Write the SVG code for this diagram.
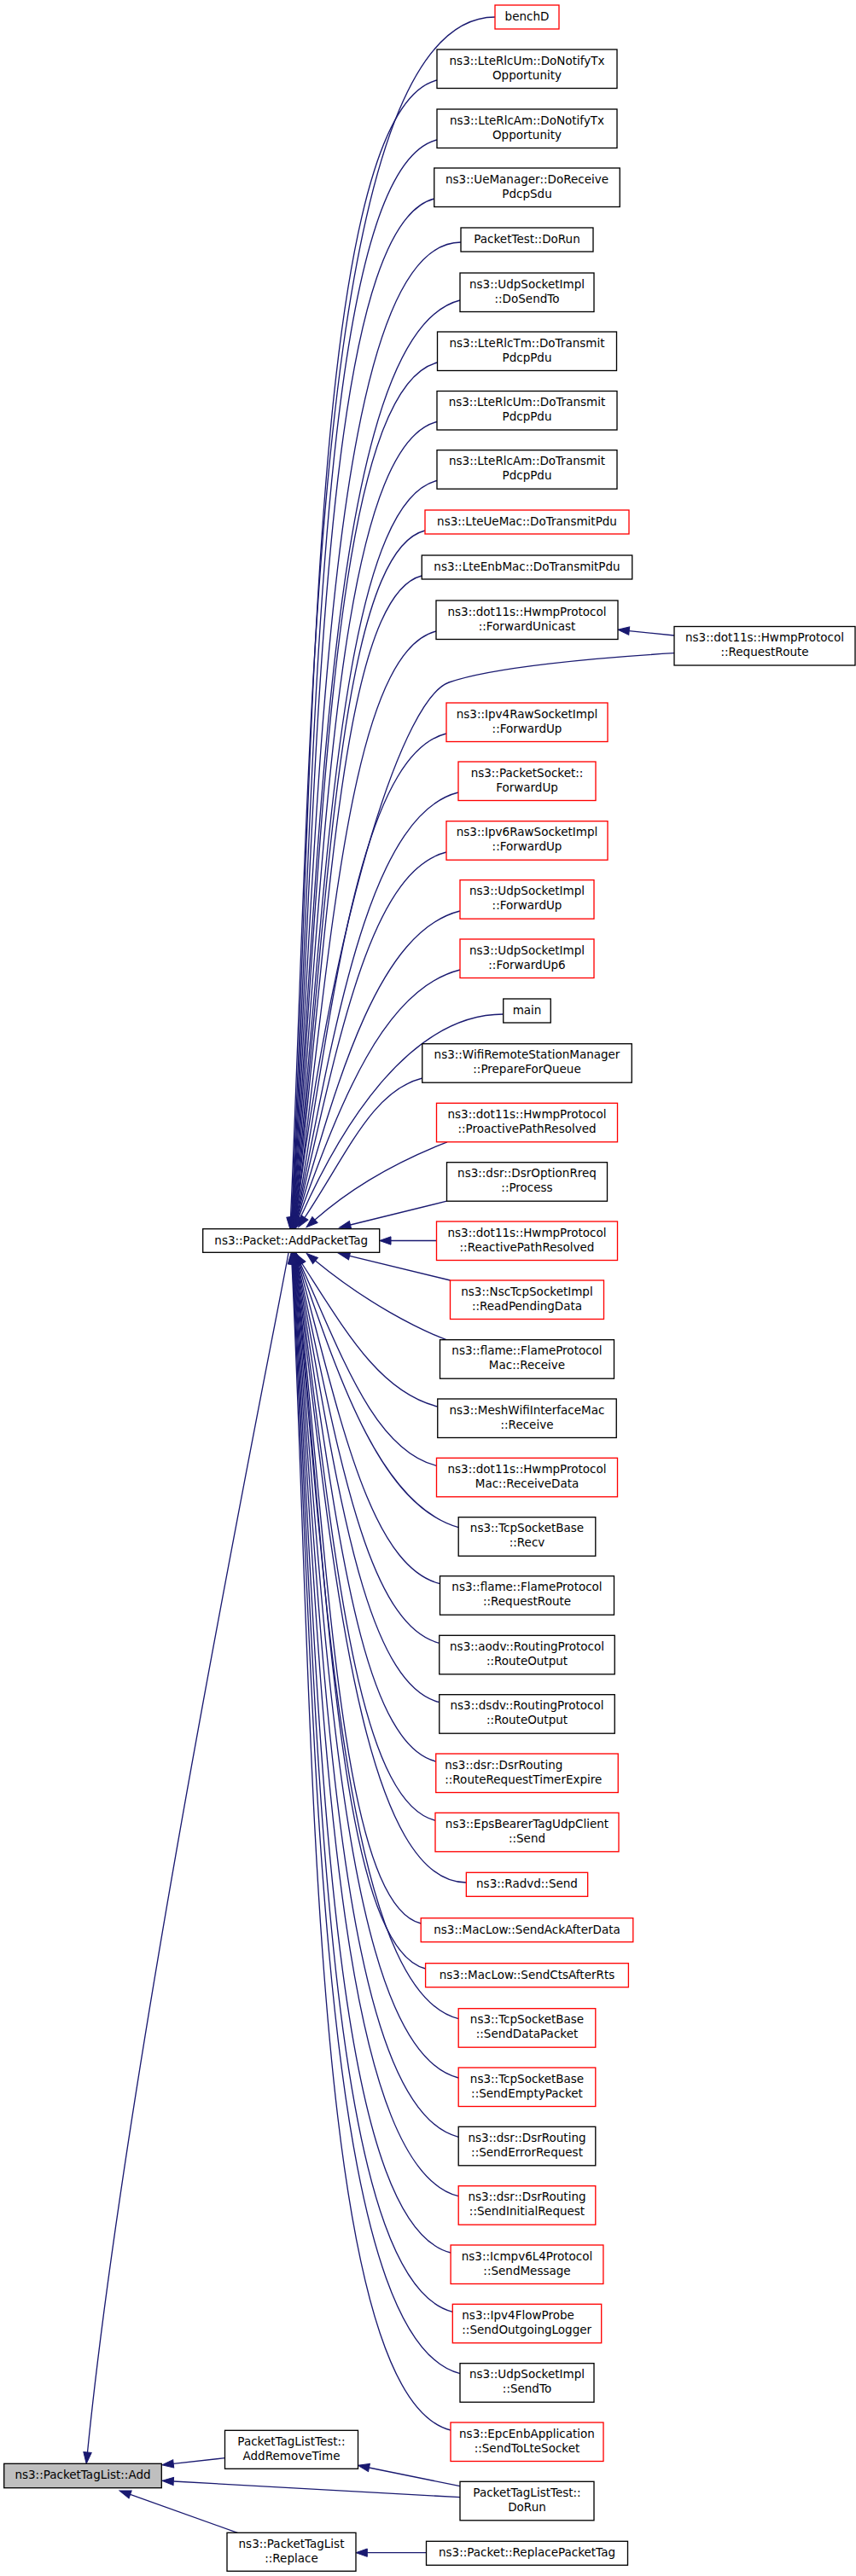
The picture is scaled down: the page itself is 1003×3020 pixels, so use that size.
<svg xmlns="http://www.w3.org/2000/svg" width="1003" height="3020" viewBox="0 0 1003 3020">
<style>
.node rect{fill:#ffffff;stroke:#000000;stroke-width:1.33}
.node.r rect{stroke:#ff0000}
.node.g rect{fill:#bfbfbf}
.node text{font-family:"DejaVu Sans","Liberation Sans",sans-serif;font-size:13.5px;text-anchor:middle;fill:#000000}
.node text.l{text-anchor:start}
.edges path{fill:none;stroke:#191970;stroke-width:1.33;marker-end:url(#ah)}
</style>
<defs>
<marker id="ah" markerUnits="userSpaceOnUse" markerWidth="16" markerHeight="12" viewBox="0 -6 16 12" refX="0" refY="0" orient="auto" overflow="visible">
<path d="M0,-4.67L13.3,0L0,4.67Z" fill="#191970" stroke="#191970" stroke-width="1"/>
</marker>
</defs>
<rect x="0" y="0" width="1003" height="3020" fill="#ffffff"/>
<g class="edges">
<path d="M580,20 C362.4,20 365.6,892.4 340.5,1427.5"/>
<path d="M512,94 C362.1,131.7 368.1,912.8 341.5,1427.5"/>
<path d="M512,164 C367.1,200.5 370.1,933 342,1427.5"/>
<path d="M508.75,233 C371.6,267.6 372.1,953.5 342.5,1427.5"/>
<path d="M540,284 C381.4,284 373.7,969.2 343,1427.5"/>
<path d="M539,352 C386.5,390.1 375.6,990.7 343.5,1427.5"/>
<path d="M512.5,425 C386.1,456.7 377.7,1014.7 344,1427.5"/>
<path d="M512,494.5 C390.7,524.8 379.6,1038.3 344.5,1427.5"/>
<path d="M512,563.5 C395.6,592.6 381.6,1062.4 345,1427.5"/>
<path d="M498,622 C395.2,647.7 383.4,1083.4 345.5,1427.5"/>
<path d="M494.25,675 C397.4,699.3 385,1102.9 346,1427.5"/>
<path d="M511,740 C407.7,765.8 386.9,1127.5 346.5,1427.5"/>
<path d="M790,765.7 C700,771 577,782 526,800 C475,818 395,1050 347,1427.5"/>
<path d="M790,745 L737.2,739.6"/>
<path d="M523,860 C421,885.5 390.4,1174.6 347.5,1427.5"/>
<path d="M537,929 C432.2,955.2 392.4,1202.6 348,1427.5"/>
<path d="M523,999 C431,1022 394.4,1231.8 348.5,1427.5"/>
<path d="M539,1068 C444,1091.8 396.4,1261.4 349,1427.5"/>
<path d="M539,1137 C449.6,1159.4 398.8,1291.7 350,1427.5"/>
<path d="M589.75,1189 C482.2,1189 401.9,1315.1 352,1427.5"/>
<path d="M494.75,1264 C436.5,1278.6 408.5,1349.5 357,1427.5"/>
<path d="M524,1338.8 C480,1356 420,1385 369,1430"/>
<path d="M523.5,1408.2 L410.5,1436"/>
<path d="M511.5,1454.5 L458,1454.5"/>
<path d="M527.5,1501 L409.6,1472.4"/>
<path d="M523,1570.7 C490,1558 430,1528 369.5,1478"/>
<path d="M512.75,1649 C445.2,1632.1 405.4,1561.4 354,1481.5"/>
<path d="M511.5,1718.3 C439.3,1700.3 402,1593.2 352,1481.5"/>
<path d="M537.2,1790.7 C448,1765.4 399.5,1624.2 351,1481.5"/>
<path d="M515.5,1856.7 C431.6,1835.8 397,1654.4 350,1481.5"/>
<path d="M514.75,1926.3 C426.3,1904.2 394.5,1684 349,1481.5"/>
<path d="M514.75,1995.7 C421.5,1972.4 392.6,1712.8 348.5,1481.5"/>
<path d="M510.75,2065 C415.1,2041.1 390.6,1740.9 348,1481.5"/>
<path d="M510,2134.3 C410.1,2109.3 388.6,1768.1 347.5,1481.5"/>
<path d="M546.35,2207 C418.2,2207 386.6,1795.9 347,1481.5"/>
<path d="M493.2,2255 C396.1,2230.7 385,1813.9 346.5,1481.5"/>
<path d="M498.6,2308 C394.5,2282 383.4,1833.2 346,1481.5"/>
<path d="M537.2,2366.7 C402.1,2332.9 381.7,1854.1 345.5,1481.5"/>
<path d="M537.2,2436 C396.5,2400.8 379.7,1878.1 345,1481.5"/>
<path d="M537.2,2505.3 C390.9,2468.7 377.7,1901.4 344.5,1481.5"/>
<path d="M537.2,2574.7 C385.3,2536.7 375.7,1923.9 344,1481.5"/>
<path d="M528.1,2641 C378.2,2603.5 373.8,1944.7 343.5,1481.5"/>
<path d="M530.3,2710.3 C373.1,2671 371.9,1965.8 343,1481.5"/>
<path d="M539,2782.7 C368.5,2740.1 369.8,1987 342.5,1481.5"/>
<path d="M528,2849 C361.6,2807.9 367.9,2005.7 342,1481.5"/>
<path d="M338,1469 C322,1560 150,2400 102.5,2875"/>
<path d="M263.5,2881.7 L203.2,2888.3"/>
<path d="M539,2927.7 L203.3,2909"/>
<path d="M539,2914.7 L432.5,2893"/>
<path d="M278.3,2969.3 L152.6,2924.4"/>
<path d="M499.5,2992.7 L430.3,2992.7"/>
</g>
<g id="n_benchD" class="node r"><rect x="580" y="6" width="75" height="28"/><text x="617.5" y="24">benchD</text></g>
<g id="n_rlcum_notify" class="node"><rect x="512" y="58" width="211" height="45.5"/><text x="617.5" y="75.5"><tspan x="617.5" y="75.5">ns3::LteRlcUm::DoNotifyTx</tspan><tspan x="617.5" y="92.5">Opportunity</tspan></text></g>
<g id="n_rlcam_notify" class="node"><rect x="512" y="128" width="211" height="45.5"/><text x="617.5" y="145.5"><tspan x="617.5" y="145.5">ns3::LteRlcAm::DoNotifyTx</tspan><tspan x="617.5" y="162.5">Opportunity</tspan></text></g>
<g id="n_uemanager" class="node"><rect x="508.75" y="197" width="217.5" height="45.5"/><text x="617.5" y="214.5"><tspan x="617.5" y="214.5">ns3::UeManager::DoReceive</tspan><tspan x="617.5" y="231.5">PdcpSdu</tspan></text></g>
<g id="n_packettest" class="node"><rect x="540" y="267" width="155" height="28"/><text x="617.5" y="285">PacketTest::DoRun</text></g>
<g id="n_udp_dosendto" class="node"><rect x="539" y="320" width="157" height="45.5"/><text x="617.5" y="337.5"><tspan x="617.5" y="337.5">ns3::UdpSocketImpl</tspan><tspan x="617.5" y="354.5">::DoSendTo</tspan></text></g>
<g id="n_rlctm_tx" class="node"><rect x="512.5" y="389" width="210" height="45.5"/><text x="617.5" y="406.5"><tspan x="617.5" y="406.5">ns3::LteRlcTm::DoTransmit</tspan><tspan x="617.5" y="423.5">PdcpPdu</tspan></text></g>
<g id="n_rlcum_tx" class="node"><rect x="512" y="458.5" width="211" height="45.5"/><text x="617.5" y="476"><tspan x="617.5" y="476">ns3::LteRlcUm::DoTransmit</tspan><tspan x="617.5" y="493">PdcpPdu</tspan></text></g>
<g id="n_rlcam_tx" class="node"><rect x="512" y="527.7" width="211" height="45.5"/><text x="617.5" y="545.2"><tspan x="617.5" y="545.2">ns3::LteRlcAm::DoTransmit</tspan><tspan x="617.5" y="562.2">PdcpPdu</tspan></text></g>
<g id="n_uemac" class="node r"><rect x="498" y="598" width="239" height="28"/><text x="617.5" y="616">ns3::LteUeMac::DoTransmitPdu</text></g>
<g id="n_enbmac" class="node"><rect x="494.25" y="651" width="246.5" height="28"/><text x="617.5" y="669">ns3::LteEnbMac::DoTransmitPdu</text></g>
<g id="n_fwdunicast" class="node"><rect x="511" y="704" width="213" height="45.5"/><text x="617.5" y="721.5"><tspan x="617.5" y="721.5">ns3::dot11s::HwmpProtocol</tspan><tspan x="617.5" y="738.5">::ForwardUnicast</tspan></text></g>
<g id="n_hwmp_requestroute" class="node"><rect x="790" y="734.5" width="212" height="45.5"/><text x="896" y="752"><tspan x="896" y="752">ns3::dot11s::HwmpProtocol</tspan><tspan x="896" y="769">::RequestRoute</tspan></text></g>
<g id="n_ipv4raw" class="node r"><rect x="523" y="824" width="189" height="45.5"/><text x="617.5" y="841.5"><tspan x="617.5" y="841.5">ns3::Ipv4RawSocketImpl</tspan><tspan x="617.5" y="858.5">::ForwardUp</tspan></text></g>
<g id="n_packetsocket" class="node r"><rect x="537" y="893" width="161" height="45.5"/><text x="617.5" y="910.5"><tspan x="617.5" y="910.5">ns3::PacketSocket::</tspan><tspan x="617.5" y="927.5">ForwardUp</tspan></text></g>
<g id="n_ipv6raw" class="node r"><rect x="523" y="962.7" width="189" height="45.5"/><text x="617.5" y="980.2"><tspan x="617.5" y="980.2">ns3::Ipv6RawSocketImpl</tspan><tspan x="617.5" y="997.2">::ForwardUp</tspan></text></g>
<g id="n_udp_fwdup" class="node r"><rect x="539" y="1031.7" width="157" height="45.5"/><text x="617.5" y="1049.2"><tspan x="617.5" y="1049.2">ns3::UdpSocketImpl</tspan><tspan x="617.5" y="1066.2">::ForwardUp</tspan></text></g>
<g id="n_udp_fwdup6" class="node r"><rect x="539" y="1101" width="157" height="45.5"/><text x="617.5" y="1118.5"><tspan x="617.5" y="1118.5">ns3::UdpSocketImpl</tspan><tspan x="617.5" y="1135.5">::ForwardUp6</tspan></text></g>
<g id="n_main" class="node"><rect x="589.75" y="1171" width="55.5" height="28"/><text x="617.5" y="1189">main</text></g>
<g id="n_wifirsm" class="node"><rect x="494.75" y="1223.7" width="245.5" height="45.5"/><text x="617.5" y="1241.2"><tspan x="617.5" y="1241.2">ns3::WifiRemoteStationManager</tspan><tspan x="617.5" y="1258.2">::PrepareForQueue</tspan></text></g>
<g id="n_proactive" class="node r"><rect x="511.5" y="1293.3" width="212" height="45.5"/><text x="617.5" y="1310.8"><tspan x="617.5" y="1310.8">ns3::dot11s::HwmpProtocol</tspan><tspan x="617.5" y="1327.8">::ProactivePathResolved</tspan></text></g>
<g id="n_dsroptionrreq" class="node"><rect x="523.5" y="1362.7" width="188" height="45.5"/><text x="617.5" y="1380.2"><tspan x="617.5" y="1380.2">ns3::dsr::DsrOptionRreq</tspan><tspan x="617.5" y="1397.2">::Process</tspan></text></g>
<g id="n_reactive" class="node r"><rect x="511.5" y="1432" width="212" height="45.5"/><text x="617.5" y="1449.5"><tspan x="617.5" y="1449.5">ns3::dot11s::HwmpProtocol</tspan><tspan x="617.5" y="1466.5">::ReactivePathResolved</tspan></text></g>
<g id="n_nsctcp" class="node r"><rect x="527.5" y="1501" width="180" height="45.5"/><text x="617.5" y="1518.5"><tspan x="617.5" y="1518.5">ns3::NscTcpSocketImpl</tspan><tspan x="617.5" y="1535.5">::ReadPendingData</tspan></text></g>
<g id="n_flamemac" class="node"><rect x="515.5" y="1570.7" width="204" height="45.5"/><text x="617.5" y="1588.2"><tspan x="617.5" y="1588.2">ns3::flame::FlameProtocol</tspan><tspan x="617.5" y="1605.2">Mac::Receive</tspan></text></g>
<g id="n_meshwifi" class="node"><rect x="512.75" y="1640" width="209.5" height="45.5"/><text x="617.5" y="1657.5"><tspan x="617.5" y="1657.5">ns3::MeshWifiInterfaceMac</tspan><tspan x="617.5" y="1674.5">::Receive</tspan></text></g>
<g id="n_hwmpmac" class="node r"><rect x="511.5" y="1709.3" width="212" height="45.5"/><text x="617.5" y="1726.8"><tspan x="617.5" y="1726.8">ns3::dot11s::HwmpProtocol</tspan><tspan x="617.5" y="1743.8">Mac::ReceiveData</tspan></text></g>
<g id="n_tcprecv" class="node"><rect x="537.2" y="1778.7" width="160.6" height="45.5"/><text x="617.5" y="1796.2"><tspan x="617.5" y="1796.2">ns3::TcpSocketBase</tspan><tspan x="617.5" y="1813.2">::Recv</tspan></text></g>
<g id="n_flamerr" class="node"><rect x="515.5" y="1847.7" width="204" height="45.5"/><text x="617.5" y="1865.2"><tspan x="617.5" y="1865.2">ns3::flame::FlameProtocol</tspan><tspan x="617.5" y="1882.2">::RequestRoute</tspan></text></g>
<g id="n_aodv" class="node"><rect x="514.75" y="1917.3" width="205.5" height="45.5"/><text x="617.5" y="1934.8"><tspan x="617.5" y="1934.8">ns3::aodv::RoutingProtocol</tspan><tspan x="617.5" y="1951.8">::RouteOutput</tspan></text></g>
<g id="n_dsdv" class="node"><rect x="514.75" y="1986.7" width="205.5" height="45.5"/><text x="617.5" y="2004.2"><tspan x="617.5" y="2004.2">ns3::dsdv::RoutingProtocol</tspan><tspan x="617.5" y="2021.2">::RouteOutput</tspan></text></g>
<g id="n_dsrrrte" class="node r"><rect x="510.75" y="2056" width="213.5" height="45.5"/><text class="l" x="521.25" y="2073.5"><tspan x="521.25" y="2073.5">ns3::dsr::DsrRouting</tspan><tspan x="521.25" y="2090.5">::RouteRequestTimerExpire</tspan></text></g>
<g id="n_epsbearer" class="node r"><rect x="510" y="2125.3" width="215" height="45.5"/><text x="617.5" y="2142.8"><tspan x="617.5" y="2142.8">ns3::EpsBearerTagUdpClient</tspan><tspan x="617.5" y="2159.8">::Send</tspan></text></g>
<g id="n_radvd" class="node r"><rect x="546.35" y="2195.3" width="142.3" height="28"/><text x="617.5" y="2213.3">ns3::Radvd::Send</text></g>
<g id="n_sendack" class="node r"><rect x="493.2" y="2248.7" width="248.6" height="28"/><text x="617.5" y="2266.7">ns3::MacLow::SendAckAfterData</text></g>
<g id="n_sendcts" class="node r"><rect x="498.6" y="2301.7" width="237.8" height="28"/><text x="617.5" y="2319.7">ns3::MacLow::SendCtsAfterRts</text></g>
<g id="n_tcpdata" class="node r"><rect x="537.2" y="2354.7" width="160.6" height="45.5"/><text x="617.5" y="2372.2"><tspan x="617.5" y="2372.2">ns3::TcpSocketBase</tspan><tspan x="617.5" y="2389.2">::SendDataPacket</tspan></text></g>
<g id="n_tcpempty" class="node r"><rect x="537.2" y="2424" width="160.6" height="45.5"/><text x="617.5" y="2441.5"><tspan x="617.5" y="2441.5">ns3::TcpSocketBase</tspan><tspan x="617.5" y="2458.5">::SendEmptyPacket</tspan></text></g>
<g id="n_dsrerr" class="node"><rect x="537.2" y="2493.3" width="160.6" height="45.5"/><text x="617.5" y="2510.8"><tspan x="617.5" y="2510.8">ns3::dsr::DsrRouting</tspan><tspan x="617.5" y="2527.8">::SendErrorRequest</tspan></text></g>
<g id="n_dsrinit" class="node r"><rect x="537.2" y="2562.7" width="160.6" height="45.5"/><text x="617.5" y="2580.2"><tspan x="617.5" y="2580.2">ns3::dsr::DsrRouting</tspan><tspan x="617.5" y="2597.2">::SendInitialRequest</tspan></text></g>
<g id="n_icmpv6" class="node r"><rect x="528.1" y="2632" width="178.8" height="45.5"/><text x="617.5" y="2649.5"><tspan x="617.5" y="2649.5">ns3::Icmpv6L4Protocol</tspan><tspan x="617.5" y="2666.5">::SendMessage</tspan></text></g>
<g id="n_flowprobe" class="node r"><rect x="530.3" y="2701.3" width="174.4" height="45.5"/><text class="l" x="541.3" y="2718.8"><tspan x="541.3" y="2718.8">ns3::Ipv4FlowProbe</tspan><tspan x="541.3" y="2735.8">::SendOutgoingLogger</tspan></text></g>
<g id="n_udpsendto" class="node"><rect x="539" y="2770.7" width="157" height="45.5"/><text x="617.5" y="2788.2"><tspan x="617.5" y="2788.2">ns3::UdpSocketImpl</tspan><tspan x="617.5" y="2805.2">::SendTo</tspan></text></g>
<g id="n_epcenb" class="node r"><rect x="528" y="2840" width="179" height="45.5"/><text x="617.5" y="2857.5"><tspan x="617.5" y="2857.5">ns3::EpcEnbApplication</tspan><tspan x="617.5" y="2874.5">::SendToLteSocket</tspan></text></g>
<g id="n_ptltest_dorun" class="node"><rect x="539" y="2909.3" width="157" height="45.5"/><text x="617.5" y="2926.8"><tspan x="617.5" y="2926.8">PacketTagListTest::</tspan><tspan x="617.5" y="2943.8">DoRun</tspan></text></g>
<g id="n_replacepackettag" class="node"><rect x="499.5" y="2979.3" width="236" height="28"/><text x="617.5" y="2997.3">ns3::Packet::ReplacePacketTag</text></g>
<g id="n_addpackettag" class="node"><rect x="237.7" y="1440.7" width="207" height="27.6"/><text x="341.2" y="1458.7">ns3::Packet::AddPacketTag</text></g>
<g id="n_addremovetime" class="node"><rect x="263.5" y="2849.3" width="156" height="45"/><text x="341.5" y="2866.8"><tspan x="341.5" y="2866.8">PacketTagListTest::</tspan><tspan x="341.5" y="2883.8">AddRemoveTime</tspan></text></g>
<g id="n_replace" class="node"><rect x="266" y="2969.3" width="151" height="45"/><text x="341.5" y="2986.8"><tspan x="341.5" y="2986.8">ns3::PacketTagList</tspan><tspan x="341.5" y="3003.8">::Replace</tspan></text></g>
<g id="n_add" class="node g"><rect x="4.7" y="2888.3" width="184.6" height="28.4"/><text x="97" y="2906.3">ns3::PacketTagList::Add</text></g>
</svg>
